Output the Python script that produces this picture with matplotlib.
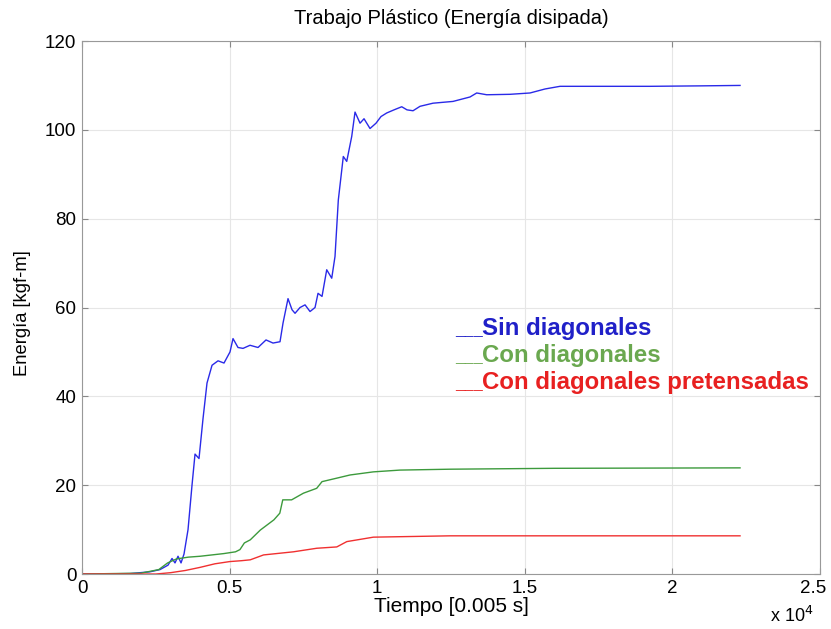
import matplotlib.pyplot as plt
import matplotlib.transforms as mtransforms
import numpy as np

plt.rcParams['font.family'] = ['Liberation Sans', 'DejaVu Sans']

# energía disipada, tiempo en pasos de 0.005 s
t_sin = [0, 1626, 2303, 2642, 2913, 3049, 3150, 3252, 3354, 3455, 3591, 3726,
         3828, 3963, 4099, 4234, 4404, 4607, 4810, 5013, 5115, 5284, 5454,
         5691, 5962, 6233, 6470, 6707, 6809, 6978, 7114, 7216, 7385, 7555,
         7724, 7893, 7995, 8130, 8289, 8459, 8570, 8682, 8851, 8967, 9136,
         9248, 9418, 9553, 9756, 9959, 10129, 10322, 10569, 10830, 11009,
         11213, 11450, 11890, 12568, 13143, 13370, 13709, 14499, 15176, 15684,
         16192, 17547, 19241, 20935, 22290]
e_sin = [0, 0.1, 0.5, 1.0, 2.0, 3.5, 2.5, 4.0, 2.5, 4.5, 10, 20,
         27, 26, 35, 43, 47, 48, 47.5, 50, 53, 51, 50.8,
         51.5, 51, 52.7, 52, 52.3, 56.5, 62, 59.5, 58.7, 60, 60.6,
         59.1, 60, 63.2, 62.5, 68.5, 66.6, 71.5, 84.2, 94, 92.9, 98.5,
         104, 101.5, 102.5, 100.3, 101.5, 103, 103.8, 104.5, 105.2, 104.5,
         104.3, 105.3, 106, 106.4, 107.4, 108.3, 107.9, 108, 108.3, 109.2,
         109.8, 109.8, 109.8, 109.9, 110]

t_con = [0, 2000, 2600, 2900, 3200, 3600, 4000, 4400, 4800, 5200, 5350, 5500,
         5700, 6040, 6500, 6700, 6800, 7100, 7500, 7950, 8130, 8640, 9080,
         9870, 10770, 12470, 16000, 22290]
e_con = [0, 0.2, 1.0, 2.5, 3.4, 3.8, 4.0, 4.3, 4.6, 5.0, 5.5, 7.0,
         7.7, 9.9, 12.2, 13.7, 16.7, 16.7, 18.2, 19.3, 20.8, 21.6, 22.3,
         23.0, 23.4, 23.6, 23.8, 23.9]

t_pre = [0, 2500, 3000, 3500, 4000, 4500, 5000, 5400, 5700, 6150, 7160, 7950,
         8630, 8970, 9870, 12470, 22290]
e_pre = [0, 0, 0.3, 0.8, 1.5, 2.3, 2.8, 3.0, 3.2, 4.3, 5.0, 5.8,
         6.1, 7.3, 8.3, 8.6, 8.6]

series = ['Sin diagonales', 'Con diagonales', 'Con diagonales pretensadas']
line_colors = ['#2a2ae8', '#3c9a3c', '#f03030']
text_colors = ['#2020c8', '#6aa84f', '#e82020']
xtick_labels = ['0', '0.5', '1', '1.5', '2', '2.5']

fig = plt.figure(figsize=(8.31, 6.29), dpi=100)
ax = fig.add_axes([0.0987, 0.0874, 0.8881, 0.8474])

for t, e, c in zip([t_sin, t_con, t_pre], [e_sin, e_con, e_pre], line_colors):
    ax.plot(t, e, color=c, lw=1.0)

ax.set_xlim(0, 25000)
ax.set_ylim(0, 120)
ax.set_xticks(np.arange(0, 25001, 5000))
ax.set_xticklabels(xtick_labels)
ax.set_yticks(np.arange(0, 121, 20))
ax.tick_params(direction='in', top=True, right=True, labelsize=13.5,
               length=4, color='#888888', pad=4)
ax.grid(True, color='#e6e6e6', lw=0.8)
for s in ax.spines.values():
    s.set_color('#999999')

# el último rótulo queda pegado al borde, se corre un poco a la izquierda
last = ax.get_xticklabels()[-1]
last.set_transform(last.get_transform() +
                   mtransforms.ScaledTranslation(-5 / 72, 0, fig.dpi_scale_trans))

ax.set_title('Trabajo Plástico (Energía disipada)', fontsize=14.5, pad=12)
ax.set_xlabel('Tiempo [0.005 s]', fontsize=15)
ax.xaxis.set_label_coords(0.5, -0.043)
ax.set_ylabel('Energía [kgf-m]', fontsize=13.2)
ax.yaxis.set_label_coords(-0.069, 0.49)
fig.text(0.9266, 0.011, r'x 10$^4$', fontsize=13, va='baseline')

# leyenda escrita a mano: guiones + nombre de la serie
for name, c, yb in zip(series, text_colors, [53.8, 47.7, 41.7]):
    ax.text(12635, yb, '___', color=c, fontsize=12, fontweight='bold',
            va='baseline')
    ax.text(13550, yb, name, color=c, fontsize=17.3, fontweight='bold',
            va='baseline')

fig.savefig('out.png', dpi=100)
